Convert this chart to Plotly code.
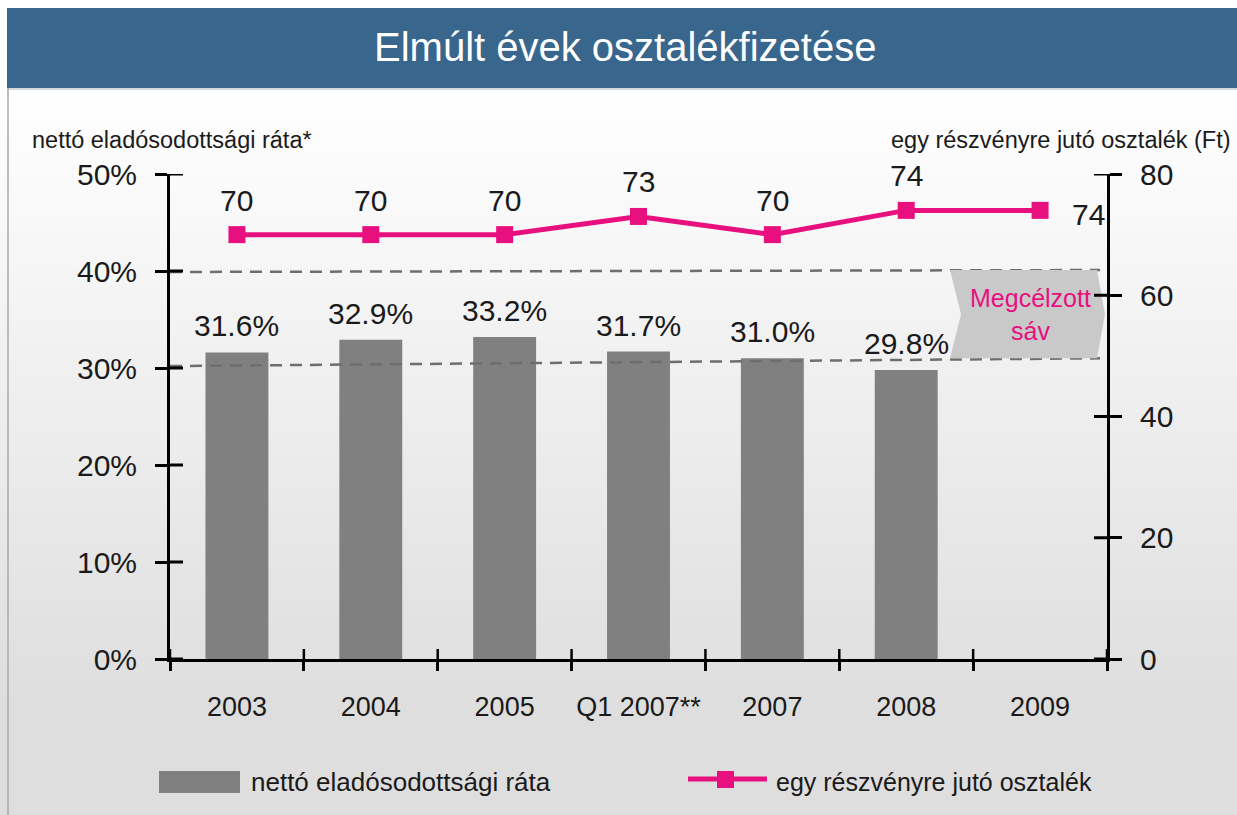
import plotly.graph_objects as go

# chart data
categories = ["2003", "2004", "2005", "Q1 2007**", "2007", "2008", "2009"]
debt_ratio = [31.6, 32.9, 33.2, 31.7, 31.0, 29.8, None]
dividend = [70, 70, 70, 73, 70, 74, 74]
left_ticks = [0, 10, 20, 30, 40, 50]
right_ticks = [0, 20, 40, 60, 80]
# target band (left axis %), value at left and right end
band_high = [39.9, 40.1]
band_low = [30.2, 31.0]

title = "Elmúlt évek osztalékfizetése"
left_title = "nettó eladósodottsági ráta*"
right_title = "egy részvényre jutó osztalék (Ft)"
bar_name = "nettó eladósodottsági ráta"
line_name = "egy részvényre jutó osztalék"
band_text = "Megcélzott<br>sáv"

W, H = 1237, 815
L, R, T, B = 170, 130, 174, 156
PW, PH = W - L - R, H - T - B

FONT = "Liberation Sans, Arial, sans-serif"
PINK = "#E8107F"
BAR = "#808080"
DASH = "#6e6e6e"
TXT = "#1a1a1a"


def px_x(px):
    return (px - L) / PW


def px_y(py):
    return (H - B - py) / PH


fig = go.Figure()

fig.add_trace(
    go.Bar(
        x=categories,
        y=debt_ratio,
        marker=dict(color=BAR, line=dict(width=0)),
        width=0.47,
        name=bar_name,
        showlegend=False,
    )
)

fig.add_trace(
    go.Scatter(
        x=categories,
        y=dividend,
        yaxis="y2",
        mode="lines+markers",
        line=dict(color=PINK, width=5),
        marker=dict(symbol="square", size=17, color=PINK),
        name=line_name,
        showlegend=False,
    )
)

shapes = []

# background gradient
top, bottom = 89, H
step = 6
for py in range(top, bottom, step):
    t = min((py - top) / (700 - top), 1.0)
    c = int(round(255 - 33 * t))
    shapes.append(dict(
        type="rect", xref="paper", yref="paper", layer="below",
        x0=px_x(0), x1=px_x(W), y0=px_y(py + step + 1), y1=px_y(py),
        fillcolor=f"rgb({c},{c},{c})", line=dict(width=0),
    ))

# title bar and frame
shapes.append(dict(
    type="rect", xref="paper", yref="paper", layer="below",
    x0=px_x(0), x1=px_x(W), y0=px_y(89), y1=px_y(0),
    fillcolor="white", line=dict(width=0),
))
shapes.append(dict(
    type="rect", xref="paper", yref="paper", layer="below",
    x0=px_x(7), x1=px_x(W), y0=px_y(88), y1=px_y(8),
    fillcolor="#38668c", line=dict(width=0),
))
shapes.append(dict(
    type="line", xref="paper", yref="paper", layer="below",
    x0=px_x(7), x1=px_x(W), y0=px_y(89), y1=px_y(89),
    line=dict(color="#c4ccd4", width=1.5),
))
shapes.append(dict(
    type="line", xref="paper", yref="paper", layer="below",
    x0=px_x(8), x1=px_x(8), y0=px_y(88), y1=px_y(H),
    line=dict(color="#a8a8a8", width=1.5),
))

# target band dashed lines
for vals in (band_high, band_low):
    shapes.append(dict(
        type="line", xref="paper", yref="y", layer="above",
        x0=0, x1=px_x(1100), y0=vals[0], y1=vals[1],
        line=dict(color=DASH, width=2.5, dash="12px,8px"),
    ))

# chevron label box
yt, yb = band_high[1], band_low[1]
ym = (yt + yb) / 2
xa, xn, xb, xp = px_x(950), px_x(961), px_x(1097), px_x(1105)
shapes.append(dict(
    type="path", xref="paper", yref="y", layer="above",
    path=f"M {xa},{yt} L {xb},{yt} L {xp},{ym} L {xb},{yb} L {xa},{yb} L {xn},{ym} Z",
    fillcolor="#c9c9c9", line=dict(width=0),
))

# inner halves of the crossing ticks
for v in left_ticks:
    shapes.append(dict(
        type="line", xref="paper", yref="y", layer="above",
        x0=0, x1=13 / PW, y0=v, y1=v, line=dict(color="black", width=3),
    ))
for v in right_ticks:
    shapes.append(dict(
        type="line", xref="paper", yref="y2", layer="above",
        x0=1 - 13 / PW, x1=1, y0=v, y1=v, line=dict(color="black", width=3),
    ))
for i in range(len(categories) + 1):
    shapes.append(dict(
        type="line", xref="x", yref="paper", layer="above",
        x0=i - 0.5, x1=i - 0.5, y0=0, y1=10 / PH,
        line=dict(color="black", width=2.5),
    ))

# custom legend
shapes.append(dict(
    type="rect", xref="paper", yref="paper",
    x0=px_x(159), x1=px_x(240), y0=px_y(793), y1=px_y(771),
    fillcolor=BAR, line=dict(width=0),
))
shapes.append(dict(
    type="line", xref="paper", yref="paper",
    x0=px_x(688), x1=px_x(767), y0=px_y(779), y1=px_y(779),
    line=dict(color=PINK, width=5),
))
shapes.append(dict(
    type="rect", xref="paper", yref="paper",
    x0=px_x(717), x1=px_x(734), y0=px_y(788), y1=px_y(771),
    fillcolor=PINK, line=dict(width=0),
))

annotations = []

annotations.append(dict(
    xref="paper", yref="paper", x=px_x(625), y=px_y(47),
    text=title, showarrow=False, xanchor="center", yanchor="middle",
    font=dict(family=FONT, size=40, color="white"),
))
annotations.append(dict(
    xref="paper", yref="paper", x=px_x(30), y=px_y(140),
    text=left_title, showarrow=False, xanchor="left", yanchor="middle",
    font=dict(family=FONT, size=23.5, color=TXT),
))
annotations.append(dict(
    xref="paper", yref="paper", x=px_x(1233), y=px_y(140),
    text=right_title, showarrow=False, xanchor="right", yanchor="middle",
    font=dict(family=FONT, size=23.5, color=TXT),
))

# bar value labels (category index positions)
for i, v in enumerate(debt_ratio):
    if v is None:
        continue
    annotations.append(dict(
        x=i, y=v, xref="x", yref="y", text=f"{v:.1f}%",
        showarrow=False, xanchor="center", yanchor="bottom", yshift=8,
        font=dict(family=FONT, size=30, color=TXT),
    ))

# dividend labels
for i, v in enumerate(dividend):
    if i == len(dividend) - 1:
        annotations.append(dict(
            x=i, y=v, xref="x", yref="y2", text=str(v),
            showarrow=False, xanchor="left", yanchor="middle",
            xshift=30, yshift=-4,
            font=dict(family=FONT, size=30, color=TXT),
        ))
    else:
        annotations.append(dict(
            x=i, y=v, xref="x", yref="y2", text=str(v),
            showarrow=False, xanchor="center", yanchor="bottom", yshift=16,
            font=dict(family=FONT, size=30, color=TXT),
        ))

annotations.append(dict(
    xref="paper", yref="y", x=px_x(1030), y=ym,
    text=band_text, showarrow=False, xanchor="center", yanchor="middle",
    font=dict(family=FONT, size=25, color=PINK),
))

annotations.append(dict(
    xref="paper", yref="paper", x=px_x(249), y=px_y(782),
    text=bar_name, showarrow=False, xanchor="left", yanchor="middle",
    font=dict(family=FONT, size=26, color=TXT),
))
annotations.append(dict(
    xref="paper", yref="paper", x=px_x(774), y=px_y(782),
    text=line_name, showarrow=False, xanchor="left", yanchor="middle",
    font=dict(family=FONT, size=25, color=TXT),
))

fig.update_layout(
    width=W,
    height=H,
    margin=dict(l=L, r=R, t=T, b=B, pad=0),
    paper_bgcolor="white",
    plot_bgcolor="rgba(0,0,0,0)",
    font=dict(family=FONT, color=TXT),
    showlegend=False,
    shapes=shapes,
    annotations=annotations,
    xaxis=dict(
        type="category",
        categoryorder="array",
        categoryarray=categories,
        range=[-0.5, len(categories) - 0.5],
        showline=True, linewidth=3, linecolor="black",
        ticks="outside", ticklen=9, tickwidth=2.5, tickcolor="black",
        tickson="boundaries",
        tickangle=0,
        showgrid=False, zeroline=False,
        tickfont=dict(family=FONT, size=27, color=TXT),
        ticklabelstandoff=22,
    ),
    yaxis=dict(
        range=[0, 50],
        tickvals=left_ticks,
        ticktext=[f"{v}%" for v in left_ticks],
        showline=True, linewidth=3, linecolor="black",
        ticks="outside", ticklen=12, tickwidth=3, tickcolor="black",
        showgrid=False, zeroline=False,
        tickfont=dict(family=FONT, size=30, color=TXT),
        ticklabelstandoff=12,
    ),
    yaxis2=dict(
        range=[0, 80],
        tickvals=right_ticks,
        ticktext=[str(v) for v in right_ticks],
        overlaying="y",
        side="right",
        showline=True, linewidth=3, linecolor="black",
        ticks="outside", ticklen=12, tickwidth=3, tickcolor="black",
        showgrid=False, zeroline=False,
        tickfont=dict(family=FONT, size=30, color=TXT),
        ticklabelstandoff=12,
    ),
)

fig.write_html(
    "out.html",
    config={"displayModeBar": False},
    post_script="document.body.style.margin='0px';document.body.style.overflow='hidden';",
)
